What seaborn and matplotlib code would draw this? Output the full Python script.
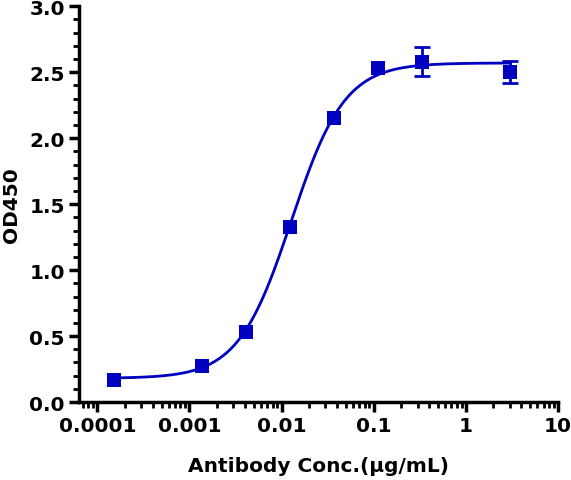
import numpy as np
import pandas as pd
import seaborn as sns
import matplotlib
matplotlib.use("Agg")
import matplotlib.pyplot as plt
from matplotlib.ticker import LogLocator, FixedLocator, MultipleLocator, FormatStrFormatter

# measured points (3-fold dilution series)
conc = [0.000152, 0.00137, 0.00412, 0.0123, 0.037, 0.111, 0.333, 3.0]
od450 = [0.167, 0.275, 0.53, 1.33, 2.15, 2.53, 2.58, 2.50]
od_err = [0.0, 0.0, 0.0, 0.0, 0.0, 0.0, 0.11, 0.085]

# 4PL fit parameters
bottom = 0.18
top = 2.57
ec50 = 0.0128
hill = 1.5

df = pd.DataFrame({"conc": conc, "od": od450, "err": od_err})
df_err = df[df["err"] > 0]

xfit = np.logspace(np.log10(0.000152), np.log10(3.0), 300)
yfit = bottom + (top - bottom) / (1 + (ec50 / xfit) ** hill)
fit = pd.DataFrame({"conc": xfit, "od": yfit})

sns.set_style("ticks")
plt.rcParams["font.family"] = ["DejaVu Sans"]
plt.rcParams["font.weight"] = "bold"
plt.rcParams["text.color"] = "black"
plt.rcParams["axes.labelcolor"] = "black"
plt.rcParams["xtick.color"] = "black"
plt.rcParams["ytick.color"] = "black"
plt.rcParams["axes.edgecolor"] = "black"

blue = "#0000C0"

fig = plt.figure(figsize=(5.71, 4.81), dpi=100)
ax = fig.add_axes([0.138, 0.162, 0.839, 0.823])

sns.lineplot(data=fit, x="conc", y="od", color=blue, linewidth=2, ax=ax)
ax.errorbar(df_err["conc"], df_err["od"], yerr=df_err["err"], fmt="none",
            ecolor=blue, elinewidth=2, capsize=6, capthick=2)
sns.scatterplot(data=df, x="conc", y="od", marker="s", s=95, color=blue,
                edgecolor=blue, linewidth=0, ax=ax, zorder=5)

ax.set_xscale("log")
ax.set_xlim(6.3e-5, 10)
ax.set_ylim(0, 3.0)
ax.xaxis.set_major_locator(FixedLocator([1e-4, 1e-3, 1e-2, 1e-1, 1, 10]))
ax.set_xticklabels(["0.0001", "0.001", "0.01", "0.1", "1", "10"])
ax.xaxis.set_minor_locator(LogLocator(base=10, subs=np.arange(2, 10), numticks=20))
ax.yaxis.set_major_locator(MultipleLocator(0.5))
ax.yaxis.set_minor_locator(MultipleLocator(0.1))
ax.yaxis.set_major_formatter(FormatStrFormatter("%.1f"))

sns.despine(ax=ax)
for s in ["left", "bottom"]:
    ax.spines[s].set_linewidth(2.5)
ax.tick_params(which="major", length=7, width=2.5, labelsize=14.5, pad=3)
ax.tick_params(which="minor", length=4, width=2)

ax.set_xlabel("Antibody Conc.(µg/mL)", fontsize=14.5, fontweight="bold", labelpad=15)
ax.set_ylabel("OD450", fontsize=14.5, fontweight="bold", labelpad=6)

fig.savefig("out.png", dpi=100)
